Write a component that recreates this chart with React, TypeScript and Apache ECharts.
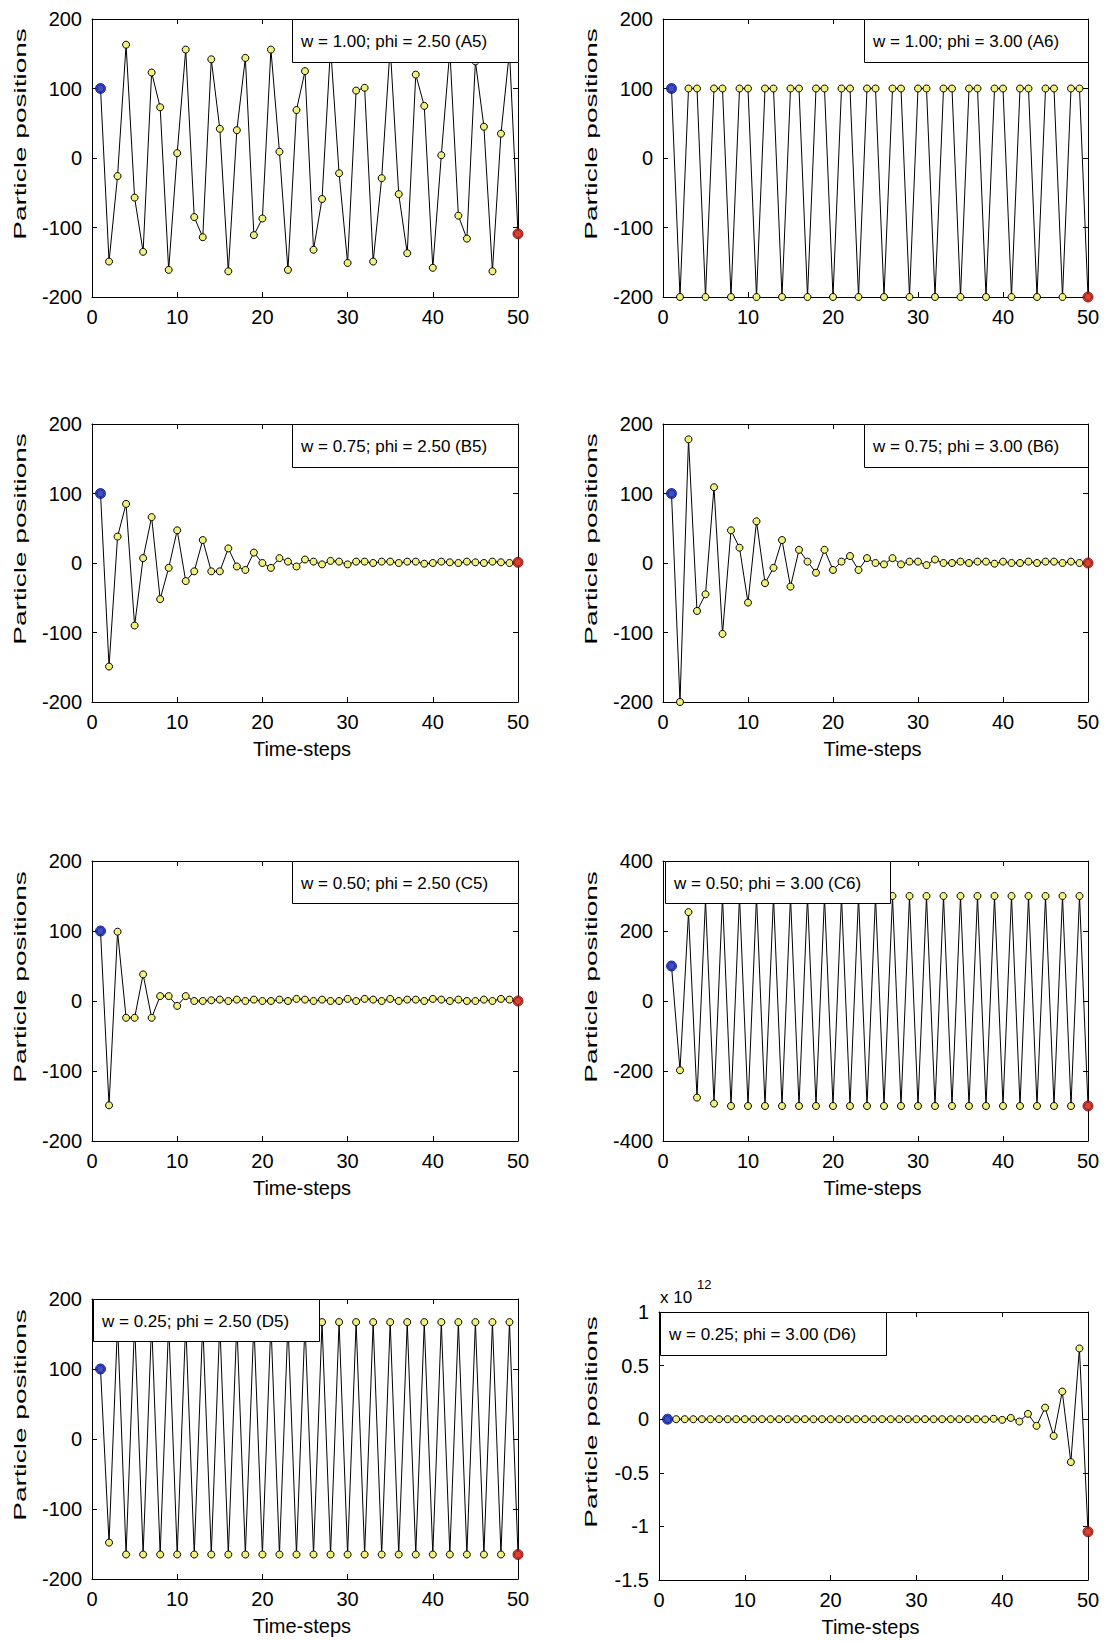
import React, { useEffect, useRef } from 'react';
import * as echarts from 'echarts';

const FONT = '"Liberation Sans", Arial, Helvetica, sans-serif';

// Time-steps 1..50 (x positions of the samples)
const TIME_STEPS = Array.from({ length: 50 }, (_, i) => i + 1);

const X_TICKS = { min: 0, max: 50, interval: 10 };

// Particle positions
const A5_POS = [100, -149, -26, 163, -57, -135, 123, 73, -161, 7,
  156, -85, -114, 142, 42, -163, 40, 144, -111, -87,
  156, 9, -161, 69, 125, -132, -59, 160, -22, -151,
  97, 101, -149, -29, 160, -52, -137, 120, 75, -158,
  4, 155, -83, -116, 139, 45, -163, 35, 154, -109];

const A6_POS = [100, -200, 100, 100, -200, 100, 100, -200, 100, 100,
  -200, 100, 100, -200, 100, 100, -200, 100, 100, -200,
  100, 100, -200, 100, 100, -200, 100, 100, -200, 100,
  100, -200, 100, 100, -200, 100, 100, -200, 100, 100,
  -200, 100, 100, -200, 100, 100, -200, 100, 100, -200];

const B5_POS = [100, -149, 38, 85, -90, 7, 66, -52, -7, 47,
  -26, -12, 33, -12, -12, 21, -5, -10, 15, 0,
  -7, 7, 2, -5, 5, 2, -2, 3, 2, -2,
  2, 2, 0, 2, 2, 0, 2, 2, -1, 0,
  2, 1, 0, 2, 1, 0, 2, 1, 0, 1];

const B6_POS = [100, -200, 178, -69, -45, 109, -102, 47, 22, -57,
  60, -29, -7, 33, -34, 19, 2, -14, 19, -10,
  2, 10, -10, 7, 0, -2, 7, -2, 2, 2,
  -3, 5, 0, 0, 2, 0, 2, 2, -1, 2,
  0, 0, 2, 0, 2, 2, 0, 2, 0, 0];

const C5_POS = [100, -149, 99, -24, -24, 38, -24, 7, 7, -7,
  7, 0, 0, 1, 2, 0, 2, 0, 2, 0,
  0, 2, 0, 3, 2, 0, 2, 0, 0, 3,
  0, 3, 2, 0, 3, 0, 2, 2, 0, 3,
  2, 0, 2, 0, 0, 2, 0, 3, 2, 0];

const C6_POS = [100, -198, 254, -276, 290, -293, 298, -300, 300, -300,
  300, -300, 300, -300, 300, -300, 300, -300, 300, -300,
  300, -300, 300, -300, 300, -300, 300, -300, 300, -300,
  300, -300, 300, -300, 300, -300, 300, -300, 300, -300,
  300, -300, 300, -300, 300, -300, 300, -300, 300, -300];

const D5_POS = [100, -148, 165, -165, 167, -165, 167, -165, 167, -165,
  167, -165, 167, -165, 167, -165, 167, -165, 167, -165,
  167, -165, 167, -165, 167, -165, 167, -165, 167, -165,
  167, -165, 167, -165, 167, -165, 167, -165, 167, -165,
  167, -165, 167, -165, 167, -165, 167, -165, 167, -165];

// in units of 10^12
const D6_POS_E12 = [0, 0, 0, 0, 0, 0, 0, 0, 0, 0,
  0, 0, 0, 0, 0, 0, 0, 0, 0, 0,
  0, 0, 0, 0, 0, 0, 0, 0, 0, 0,
  0, 0, 0, 0, 0, 0, 0.001, -0.002, 0.004, -0.006,
  0.012, -0.022, 0.05, -0.062, 0.108, -0.156, 0.258, -0.4, 0.66, -1.05];

const LEGEND_TEXTS = [
  'w = 1.00; phi = 2.50 (A5)', 'w = 1.00; phi = 3.00 (A6)',
  'w = 0.75; phi = 2.50 (B5)', 'w = 0.75; phi = 3.00 (B6)',
  'w = 0.50; phi = 2.50 (C5)', 'w = 0.50; phi = 3.00 (C6)',
  'w = 0.25; phi = 2.50 (D5)', 'w = 0.25; phi = 3.00 (D6)',
];

const SERIES_VALUES = [A5_POS, A6_POS, B5_POS, B6_POS, C5_POS, C6_POS, D5_POS, D6_POS_E12];

// y-axis ranges [min, max, interval]
const Y_RANGES = [
  [-200, 200, 100], [-200, 200, 100],
  [-200, 200, 100], [-200, 200, 100],
  [-200, 200, 100], [-400, 400, 200],
  [-200, 200, 100], [-1.5, 1, 0.5],
];

const Y_LABEL = 'Particle positions';
const X_LABEL = 'Time-steps';
const SHOW_XLABEL = [false, false, true, true, true, true, true, true];

// layout (pixels): plot box [left, top, width, height], legend box [left, top, width, height]
const PLOT_BOX = [
  [92, 19, 426, 278], [663, 19, 425, 278],
  [92, 424, 426, 278], [663, 424, 425, 278],
  [92, 861, 426, 280], [663, 861, 425, 280],
  [92, 1299, 426, 280], [659, 1312, 429, 268],
];
const LEGEND_BOX = [
  [292, 19, 226, 43], [864, 19, 224, 43],
  [292, 424, 226, 43], [864, 424, 224, 43],
  [292, 861, 226, 42], [665, 861, 225, 42],
  [93, 1299, 226, 42], [660, 1312, 226, 43],
];

const YELLOW = '#f0f07a';
const BLUE = '#1428c8';
const RED = '#d01c1c';

function buildOption() {
  const grid: any[] = [];
  const xAxis: any[] = [];
  const yAxis: any[] = [];
  const series: any[] = [];
  const graphic: any[] = [];

  const axisCommon = {
    axisLine: { show: true, onZero: false, lineStyle: { color: '#000', width: 1 } },
    axisTick: { show: true, inside: true, length: 5, lineStyle: { color: '#000', width: 1 } },
    splitLine: { show: false },
  };
  const labelStyle = { show: true, margin: 10, fontSize: 20, color: '#000', fontFamily: FONT, showMinLabel: true, showMaxLabel: true };

  SERIES_VALUES.forEach((vals, i) => {
    const [l, t, w, h] = PLOT_BOX[i];
    const [ymin, ymax, yint] = Y_RANGES[i];
    grid.push({ left: l, top: t, width: w, height: h, show: false, containLabel: false, outerBoundsMode: 'none' });
    xAxis.push({ type: 'value', gridIndex: i, position: 'bottom', ...X_TICKS, ...axisCommon, axisLabel: labelStyle });
    xAxis.push({ type: 'value', gridIndex: i, position: 'top', ...X_TICKS, ...axisCommon, axisLabel: { show: false } });
    yAxis.push({ type: 'value', gridIndex: i, position: 'left', min: ymin, max: ymax, interval: yint, ...axisCommon, axisLabel: labelStyle });
    yAxis.push({ type: 'value', gridIndex: i, position: 'right', min: ymin, max: ymax, interval: yint, ...axisCommon, axisLabel: { show: false } });

    const data = vals.map((v, k) => [TIME_STEPS[k], v]);
    series.push({
      type: 'line', xAxisIndex: 2 * i, yAxisIndex: 2 * i, data,
      symbol: 'circle', symbolSize: 7, showSymbol: true, silent: true,
      itemStyle: { color: YELLOW, borderColor: '#000', borderWidth: 1 },
      lineStyle: { color: '#000', width: 1 }, z: 2,
    });
    series.push({
      type: 'scatter', xAxisIndex: 2 * i, yAxisIndex: 2 * i, data: [data[0]],
      symbol: 'circle', symbolSize: 10, silent: true,
      itemStyle: { color: BLUE, borderColor: '#000a80', borderWidth: 1 }, z: 3,
    });
    series.push({
      type: 'scatter', xAxisIndex: 2 * i, yAxisIndex: 2 * i, data: [data[data.length - 1]],
      symbol: 'circle', symbolSize: 10, silent: true,
      itemStyle: { color: RED, borderColor: '#700000', borderWidth: 1 }, z: 3,
    });

    // legend box
    const [lx, ly, lw, lh] = LEGEND_BOX[i];
    graphic.push({
      type: 'rect', z: 100, silent: true,
      shape: { x: lx + 0.5, y: ly + 0.5, width: lw, height: lh },
      style: { fill: '#fff', stroke: '#000', lineWidth: 1 },
    });
    graphic.push({
      type: 'text', z: 101, silent: true, x: lx + 9, y: ly + lh / 2 + 1,
      style: {
        text: LEGEND_TEXTS[i], fontSize: 17, fontFamily: FONT, fill: '#000',
        textAlign: 'left', align: 'left', textVerticalAlign: 'middle', verticalAlign: 'middle',
      },
    });

    // y label (stretched along its direction like the reference)
    const ylx = i % 2 === 0 ? 20 : 591;
    graphic.push({
      type: 'text', z: 101, silent: true, x: ylx, y: t + h / 2 - 24,
      rotation: Math.PI / 2, scaleX: 1.75,
      style: {
        text: Y_LABEL, fontSize: 16, fontFamily: FONT, fill: '#000',
        textAlign: 'center', align: 'center', textVerticalAlign: 'middle', verticalAlign: 'middle',
      },
    });

    if (SHOW_XLABEL[i]) {
      graphic.push({
        type: 'text', z: 101, silent: true, x: l + w / 2 - 3, y: t + h + 47,
        style: {
          text: X_LABEL, fontSize: 20, fontFamily: FONT, fill: '#000',
          textAlign: 'center', align: 'center', textVerticalAlign: 'middle', verticalAlign: 'middle',
        },
      });
    }
  });

  // exponent label for D6
  graphic.push({
    type: 'text', z: 101, silent: true, x: 660, y: 1297,
    style: { text: 'x 10', fontSize: 17, fontFamily: FONT, fill: '#000', textAlign: 'left', align: 'left', textVerticalAlign: 'middle', verticalAlign: 'middle' },
  });
  graphic.push({
    type: 'text', z: 101, silent: true, x: 697, y: 1284,
    style: { text: '12', fontSize: 13, fontFamily: FONT, fill: '#000', textAlign: 'left', align: 'left', textVerticalAlign: 'middle', verticalAlign: 'middle' },
  });

  return {
    animation: false,
    backgroundColor: '#fff',
    textStyle: { fontFamily: FONT },
    grid, xAxis, yAxis, series, graphic,
  };
}

export default function App() {
  const ref = useRef<HTMLDivElement>(null);
  useEffect(() => {
    const chart = echarts.init(ref.current as HTMLDivElement, null, { renderer: 'svg' });
    chart.setOption(buildOption() as any);
    return () => chart.dispose();
  }, []);
  return (
    <div
      ref={ref}
      style={{ position: 'absolute', left: 0, top: 0, width: 1105, height: 1641, background: '#fff' }}
    />
  );
}
